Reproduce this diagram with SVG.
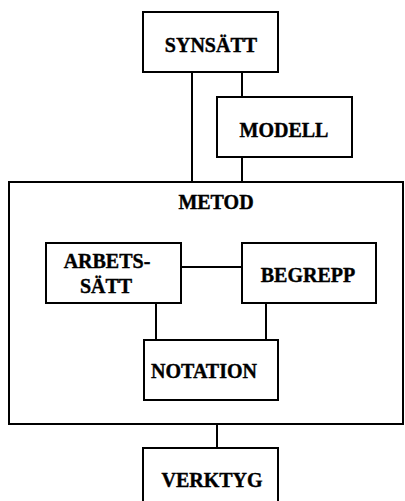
<svg xmlns="http://www.w3.org/2000/svg" width="405" height="501" viewBox="0 0 405 501">
  <style>
    .box { fill: #fff; stroke: #000; stroke-width: 2; }
    .frame { fill: none; stroke: #000; stroke-width: 2; }
    .link { fill: none; stroke: #000; stroke-width: 2; }
    text { font-family: "Liberation Serif", "Times New Roman", serif; font-weight: bold; font-size: 20px; fill: #000; stroke: #000; stroke-width: 0.4; text-anchor: middle; }
  </style>
  <rect width="405" height="501" fill="#fff"/>

  <g id="metod">
    <rect class="frame" x="9" y="182" width="394" height="242"/>
    <text x="216" y="209">METOD</text>
  </g>

  <g id="connectors">
    <line class="link" x1="192" y1="72" x2="192" y2="182"/>
    <line class="link" x1="242" y1="72" x2="242" y2="97"/>
    <line class="link" x1="242" y1="157" x2="242" y2="182"/>
    <line class="link" x1="181" y1="267" x2="242" y2="267"/>
    <line class="link" x1="156" y1="303" x2="156" y2="340"/>
    <line class="link" x1="266" y1="303" x2="266" y2="340"/>
    <line class="link" x1="217" y1="424" x2="217" y2="448"/>
  </g>

  <g id="synsatt">
    <rect class="box" x="143" y="12" width="135" height="60"/>
    <text x="211" y="52">SYNSÄTT</text>
  </g>

  <g id="modell">
    <rect class="box" x="217" y="97" width="135" height="60"/>
    <text x="284" y="137">MODELL</text>
  </g>

  <g id="arbetssatt">
    <rect class="box" x="46" y="243" width="135" height="60"/>
    <text x="107" y="268">ARBETS-</text>
    <text x="106" y="293">SÄTT</text>
  </g>

  <g id="begrepp">
    <rect class="box" x="242" y="243" width="134" height="60"/>
    <text x="308" y="282">BEGREPP</text>
  </g>

  <g id="notation">
    <rect class="box" x="144" y="340" width="134" height="60"/>
    <text x="204" y="378">NOTATION</text>
  </g>

  <g id="verktyg">
    <rect class="box" x="143" y="448" width="135" height="60"/>
    <text x="212" y="487">VERKTYG</text>
  </g>
</svg>
